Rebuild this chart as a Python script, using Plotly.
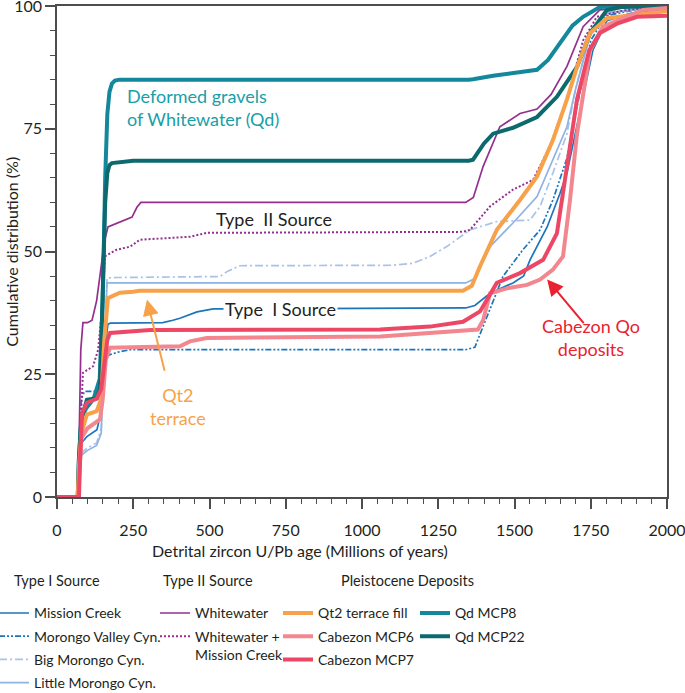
import plotly.graph_objects as go

# ---------------- data ----------------
mc_age = [0, 68, 72, 80, 98, 131, 141, 150, 158, 167, 175, 347, 380, 403, 459, 512, 1340, 1370, 1420, 1495, 1530, 1551, 1607, 1649, 1672, 1715, 1757, 1803, 1880, 1967, 2000]
mc_pct = [0, 0, 6, 11, 12.3, 13.7, 16.4, 22, 31, 35.2, 35.4, 35.5, 36, 36.4, 37.7, 38.3, 38.5, 39, 41.5, 43.6, 45, 48.3, 55, 61.8, 66, 78.8, 91, 97, 98.5, 99.2, 99.5]

mv_age = [0, 68, 72, 80, 90, 120, 140, 150, 160, 174, 200, 240, 1340, 1370, 1410, 1462, 1528, 1584, 1626, 1672, 1700, 1750, 1800, 1900, 2000]
mv_pct = [0, 0, 10, 20, 21.5, 21.5, 22, 25, 28.5, 29, 29.5, 30, 30, 30.5, 36.8, 44.9, 50.4, 54.4, 60.5, 69, 78, 93, 98, 99.3, 99.6]

bm_age = [0, 68, 72, 80, 100, 130, 145, 155, 164, 200, 534, 560, 600, 1100, 1167, 1223, 1278, 1354, 1442, 1551, 1584, 1626, 1672, 1700, 1750, 1800, 1900, 2000]
bm_pct = [0, 0, 5, 9, 10, 11, 14, 30, 44.6, 44.7, 44.9, 46, 47.1, 47.2, 47.6, 49, 51, 54.4, 56.1, 56.4, 59.2, 66, 74, 83, 95, 98.8, 99.5, 100]

lm_age = [0, 68, 72, 80, 100, 130, 145, 155, 164, 1340, 1370, 1420, 1495, 1574, 1626, 1672, 1700, 1750, 1800, 1900, 2000]
lm_pct = [0, 0, 5, 8.5, 9.5, 10.5, 13, 30, 43.6, 43.6, 44.5, 51, 55.8, 61.2, 68.7, 75.4, 83, 94.5, 98.5, 99.3, 99.6]

ww_age = [0, 68, 72, 78, 85, 100, 115, 130, 145, 155, 167, 206, 246, 262, 275, 1340, 1365, 1397, 1452, 1518, 1574, 1620, 1672, 1725, 1780, 1850, 1950, 2000]
ww_pct = [0, 0, 10, 30, 35.5, 35.5, 36, 40, 47, 52, 55, 56, 57, 59, 60, 60, 61, 67.3, 75.4, 78.1, 79, 82, 87.7, 95.8, 99.2, 99.6, 100, 100]

wm_age = [0, 68, 72, 80, 85, 118, 135, 150, 157, 193, 240, 272, 305, 436, 491, 1330, 1354, 1420, 1495, 1561, 1616, 1672, 1725, 1770, 1850, 1950, 2000]
wm_pct = [0, 0, 8, 20, 25.3, 26.6, 30, 40, 49, 50.3, 51, 52.4, 52.5, 53, 53.8, 54, 54.4, 59.2, 62.6, 64.6, 71.4, 81, 93, 97.8, 99, 99.8, 100]

qt_age = [0, 68, 72, 80, 98, 130, 145, 155, 167, 206, 250, 270, 1331, 1360, 1387, 1442, 1518, 1574, 1626, 1672, 1705, 1748, 1803, 1889, 2000]
qt_pct = [0, 0, 6, 13, 16.8, 17.5, 20, 32, 40.5, 41.6, 41.8, 42, 42, 43, 47, 54.4, 60.5, 65.3, 72.7, 81, 87.6, 94.5, 97.5, 98.2, 99]

c6_age = [0, 70, 74, 80, 100, 141, 150, 160, 174, 403, 436, 491, 1060, 1380, 1397, 1420, 1475, 1541, 1584, 1626, 1659, 1682, 1705, 1748, 1790, 1835, 1921, 2000]
c6_pct = [0, 0, 6, 12, 14, 15.8, 20, 28, 30.4, 30.7, 31.7, 32.4, 32.7, 34.1, 36, 41.5, 42.5, 43.2, 44.3, 46.3, 49, 60.5, 74, 91, 95.8, 97, 99.2, 99.6]

c7_age = [0, 72, 76, 82, 98, 130, 145, 155, 165, 174, 272, 305, 1059, 1223, 1331, 1387, 1442, 1518, 1594, 1639, 1672, 1705, 1745, 1780, 1836, 1902, 2000]
c7_pct = [0, 0, 8, 17, 19.2, 20, 22, 27, 32, 33.4, 33.7, 34, 34.1, 34.7, 35.7, 37.8, 43.6, 45.6, 48.3, 53.7, 67.3, 81, 91, 94.5, 96.4, 97.8, 98]

q8_age = [0, 68, 72, 80, 95, 120, 140, 150, 158, 165, 172, 180, 190, 205, 1350, 1364, 1430, 1495, 1574, 1610, 1649, 1690, 1725, 1780, 1850, 2000]
q8_pct = [0, 0, 8, 16, 18, 20, 24, 40, 65, 78, 82.5, 84.2, 84.8, 85, 85, 85.1, 85.8, 86.3, 87, 89, 92.5, 96, 97.8, 99.8, 100, 100]

q22_age = [0, 68, 72, 80, 98, 131, 141, 150, 158, 165, 172, 180, 250, 1350, 1364, 1400, 1430, 1495, 1574, 1639, 1705, 1748, 1803, 1850, 2000]
q22_pct = [0, 0, 8, 16, 19.8, 20.1, 22, 40, 60, 66, 67.6, 68, 68.5, 68.5, 68.7, 72, 74, 75.2, 77.4, 81.5, 87.6, 94.5, 99.2, 99.8, 100]

x_ticks = [0, 250, 500, 750, 1000, 1250, 1500, 1750, 2000]
y_ticks = [0, 25, 50, 75, 100]

FONT = "Lato"
INK = "#231f20"

series = [
    # name, ages, pcts, color, width, dash, legend
    ("Mission Creek", mc_age, mc_pct, "#1b75bb", 1.7, "solid", "legend"),
    ("Morongo Valley Cyn.", mv_age, mv_pct, "#1b75bb", 1.7, "6px,2px,2px,2px,2px,2px", "legend"),
    ("Big Morongo Cyn.", bm_age, bm_pct, "#aac2e8", 1.7, "8px,3px,2px,3px", "legend"),
    ("Little Morongo Cyn.", lm_age, lm_pct, "#8eb3e3", 1.7, "solid", "legend"),
    ("Whitewater", ww_age, ww_pct, "#93308f", 1.7, "solid", "legend2"),
    ("Whitewater +<br>Mission Creek", wm_age, wm_pct, "#93308f", 2.0, "2px,2px", "legend2"),
    ("Qd MCP8", q8_age, q8_pct, "#13879b", 4.0, "solid", "legend4"),
    ("Qd MCP22", q22_age, q22_pct, "#0c6a6e", 4.0, "solid", "legend4"),
    ("Qt2 terrace fill", qt_age, qt_pct, "#f7a24b", 4.0, "solid", "legend3"),
    ("Cabezon MCP6", c6_age, c6_pct, "#f2878f", 4.0, "solid", "legend3"),
    ("Cabezon MCP7", c7_age, c7_pct, "#ec4866", 4.0, "solid", "legend3"),
]

fig = go.Figure()
for name, xs, ys, col, w, dash, lg in series:
    fig.add_trace(go.Scatter(
        x=xs, y=ys, mode="lines", name=name, legendgroup=name,
        line=dict(color=col, width=w, dash=dash),
        legend=lg, hoverinfo="skip"))

# plot area in pixels: x 57..667, y 6..497.5
PL, PR, PT, PB = 57, 667, 6, 497.5
def px(xp):
    return (xp - PL) / (PR - PL)
def py(yp):
    return (PB - yp) / (PB - PT)

leg_common = dict(bgcolor="rgba(0,0,0,0)", borderwidth=0, xanchor="left", yanchor="top",
                  font=dict(family=FONT, size=14, color=INK), tracegroupgap=2, valign="top",
                  traceorder="grouped", itemclick=False, itemdoubleclick=False)
fig.update_layout(
    legend=dict(x=px(-6), y=py(598), **leg_common),
    legend2=dict(x=px(155), y=py(598), **leg_common),
    legend3=dict(x=px(278), y=py(598), **leg_common),
    legend4=dict(x=px(415), y=py(598), **leg_common),
)

axis_line = "#4d4d4d"
fig.update_xaxes(range=[0, 2000], tickvals=x_ticks, ticks="outside", ticklen=10, tickwidth=1.5,
                 tickcolor=axis_line, showline=True, linecolor=axis_line, linewidth=1.5, mirror=True,
                 showgrid=False, zeroline=False, ticklabelstandoff=8, ticklabeloverflow="allow",
                 tickfont=dict(family=FONT, size=16, color=INK),
                 minor=dict(dtick=50, ticks="outside", ticklen=5, tickwidth=1.2, tickcolor=axis_line, showgrid=False))
fig.update_yaxes(range=[0, 100], tickvals=y_ticks, ticks="outside", ticklen=10, tickwidth=1.5,
                 tickcolor=axis_line, showline=True, linecolor=axis_line, linewidth=1.5, mirror=True,
                 showgrid=False, zeroline=False, ticklabeloverflow="allow",
                 tickfont=dict(family=FONT, size=16, color=INK),
                 minor=dict(dtick=5, ticks="outside", ticklen=5, tickwidth=1.2, tickcolor=axis_line, showgrid=False))

ann = []
def pann(text, xp, yp, size=16, color=INK, **kw):
    d = dict(text=text, xref="paper", yref="paper", x=px(xp), y=py(yp), xanchor="center", yanchor="middle",
             showarrow=False, font=dict(family=FONT, size=size, color=color))
    d.update(kw)
    ann.append(d)

# axis titles
pann("Detrital zircon U/Pb age (Millions of years)", 300, 551)
pann("Cumulative distribution (%)", 12, 252, textangle=-90)
# legend headers
pann("Type I Source", 57, 581, size=14.5)
pann("Type II Source", 207.5, 581, size=14.5)
pann("Pleistocene Deposits", 408, 581, size=14.5)

# in-plot labels (data coordinates)
ann.append(dict(text="Deformed gravels<br>of Whitewater (Qd)", x=222, y=79.3, xanchor="left", yanchor="middle",
                align="left", showarrow=False, font=dict(family=FONT, size=18, color="#17a0a7")))
ann.append(dict(text="Type  II Source", x=712, y=56.6, xanchor="center", yanchor="middle", showarrow=False,
                font=dict(family=FONT, size=18, color=INK)))
ann.append(dict(text="Type  I Source", x=732, y=38.3, xanchor="center", yanchor="middle", showarrow=False,
                bgcolor="white", borderpad=1, font=dict(family=FONT, size=18, color=INK)))
ann.append(dict(text="Qt2<br>terrace", x=397, y=18.5, xanchor="center", yanchor="middle", showarrow=False,
                font=dict(family=FONT, size=18, color="#f7a24b")))
ann.append(dict(text="Cabezon Qo<br>deposits", x=1751, y=32.5, xanchor="center", yanchor="middle", showarrow=False,
                font=dict(family=FONT, size=18, color="#e8232f")))
# arrows
ann.append(dict(text="", x=295, y=40.2, ax=354, ay=25.4, axref="x", ayref="y", showarrow=True,
                arrowhead=2, arrowsize=1.6, arrowwidth=2, arrowcolor="#f7a24b"))
ann.append(dict(text="", x=1607, y=44.3, ax=1731, ay=35.1, axref="x", ayref="y", showarrow=True,
                arrowhead=2, arrowsize=1.6, arrowwidth=2, arrowcolor="#e8232f"))

fig.update_layout(
    width=685, height=693,
    margin=dict(l=PL, r=685 - PR, t=PT, b=693 - PB, autoexpand=False),
    plot_bgcolor="white", paper_bgcolor="white",
    font=dict(family=FONT, size=15, color=INK),
    annotations=ann,
    showlegend=True,
)

fig.write_html("out.html", config={"displayModeBar": False},
               post_script="document.body.style.margin='0';document.body.style.overflow='hidden';")
